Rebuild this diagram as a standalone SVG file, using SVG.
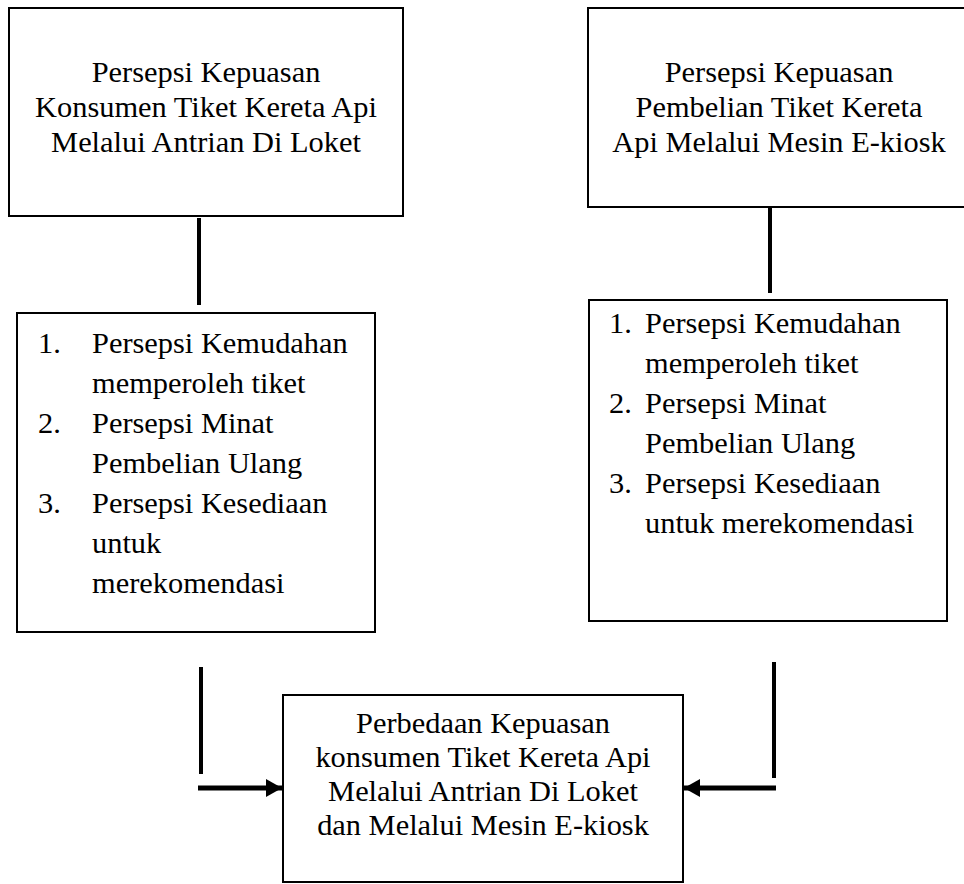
<svg xmlns="http://www.w3.org/2000/svg" width="964" height="884" viewBox="0 0 964 884">
<style>
.box{fill:#ffffff;stroke:#000;stroke-width:2}
.t{font-family:"Liberation Serif","Times New Roman",serif;font-size:30.4px;fill:#000}
.c{text-anchor:middle}
.ln{stroke:#000;stroke-width:4;fill:none}
.ar{stroke:#000;stroke-width:5;fill:none}
</style>
<defs>
<marker id="ah" markerUnits="userSpaceOnUse" markerWidth="16" markerHeight="18" refX="16" refY="9" orient="auto">
<path d="M0,0 L16,9 L0,18 Z" fill="#000"/>
</marker>
</defs>
<rect width="964" height="884" fill="#ffffff"/>
<g id="connectors">
<line class="ln" x1="199" y1="218" x2="199" y2="305"/>
<line class="ln" x1="770" y1="207" x2="770" y2="293"/>
<line class="ln" x1="201" y1="667" x2="201" y2="774"/>
<line class="ar" x1="198" y1="788" x2="282" y2="788" marker-end="url(#ah)"/>
<line class="ln" x1="774" y1="662" x2="774" y2="778"/>
<line class="ar" x1="776" y1="788" x2="684" y2="788" marker-end="url(#ah)"/>
</g>
<g id="node-loket">
<rect class="box" x="9" y="8" width="394" height="208"/>
<text class="t c" x="206" y="82">Persepsi Kepuasan</text>
<text class="t c" x="206" y="117">Konsumen Tiket Kereta Api</text>
<text class="t c" x="206" y="152">Melalui Antrian Di Loket</text>
</g>
<g id="node-ekiosk">
<rect class="box" x="588" y="8" width="384" height="199"/>
<text class="t c" x="779" y="82">Persepsi Kepuasan</text>
<text class="t c" x="779" y="117">Pembelian Tiket Kereta</text>
<text class="t c" x="779" y="152">Api Melalui Mesin E-kiosk</text>
</g>
<g id="node-list-left">
<rect class="box" x="17" y="313" width="358" height="319"/>
<text class="t" x="38" y="353">1.</text>
<text class="t" x="92" y="353">Persepsi Kemudahan</text>
<text class="t" x="92" y="393">memperoleh tiket</text>
<text class="t" x="38" y="433">2.</text>
<text class="t" x="92" y="433">Persepsi Minat</text>
<text class="t" x="92" y="473">Pembelian Ulang</text>
<text class="t" x="38" y="513">3.</text>
<text class="t" x="92" y="513">Persepsi Kesediaan</text>
<text class="t" x="92" y="553">untuk</text>
<text class="t" x="92" y="593">merekomendasi</text>
</g>
<g id="node-list-right">
<rect class="box" x="589" y="300" width="358" height="321"/>
<text class="t" x="609" y="333">1.</text>
<text class="t" x="645" y="333">Persepsi Kemudahan</text>
<text class="t" x="645" y="373">memperoleh tiket</text>
<text class="t" x="609" y="413">2.</text>
<text class="t" x="645" y="413">Persepsi Minat</text>
<text class="t" x="645" y="453">Pembelian Ulang</text>
<text class="t" x="609" y="493">3.</text>
<text class="t" x="645" y="493">Persepsi Kesediaan</text>
<text class="t" x="645" y="533">untuk merekomendasi</text>
</g>
<g id="node-perbedaan">
<rect class="box" x="283" y="695" width="400" height="187"/>
<text class="t c" x="483" y="733">Perbedaan Kepuasan</text>
<text class="t c" x="483" y="767">konsumen Tiket Kereta Api</text>
<text class="t c" x="483" y="801">Melalui Antrian Di Loket</text>
<text class="t c" x="483" y="835">dan Melalui Mesin E-kiosk</text>
</g>
</svg>
